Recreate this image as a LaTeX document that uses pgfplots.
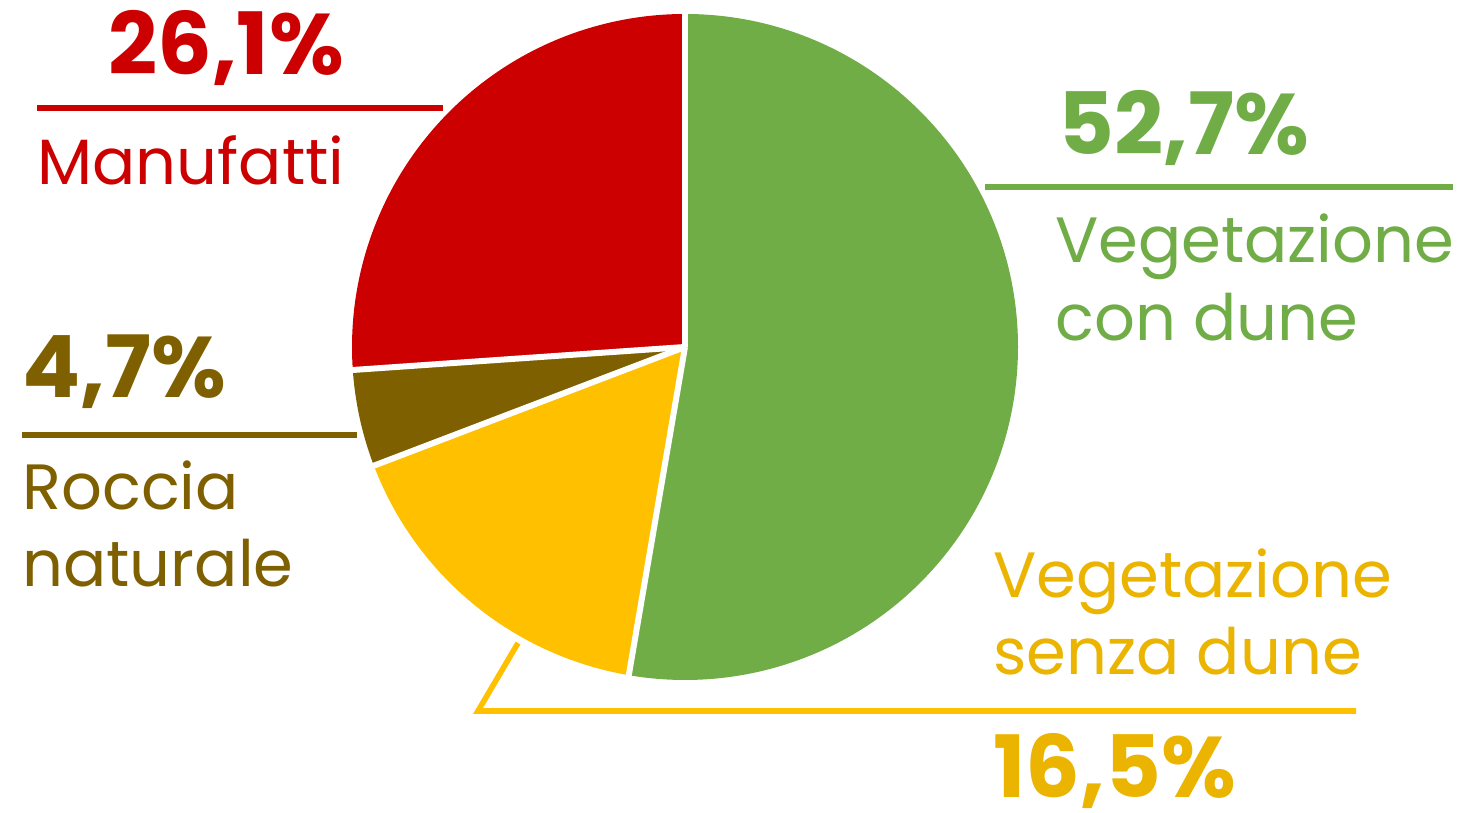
\documentclass[border=0pt]{standalone}
\usepackage{pgfplots}
\pgfplotsset{compat=1.18}
\usepackage{pgfplotstable}
\usepackage{fontspec}
\setmainfont{Poppins}

\definecolor{cgreen}{HTML}{70AD47}
\definecolor{cyellow}{HTML}{FFC000}
\definecolor{cyeltext}{HTML}{EAB400}
\definecolor{cbrown}{HTML}{7F6000}
\definecolor{cred}{HTML}{CC0000}

% shares in percent, clockwise from 12 o'clock
\pgfplotstableread{
share
52.7
16.5
4.7
26.1
}\piedata

\pgfplotstablegetelem{0}{share}\of\piedata\let\sGreen\pgfplotsretval
\pgfplotstablegetelem{1}{share}\of\piedata\let\sYellow\pgfplotsretval
\pgfplotstablegetelem{2}{share}\of\piedata\let\sBrown\pgfplotsretval
\pgfplotstablegetelem{3}{share}\of\piedata\let\sRed\pgfplotsretval
\pgfmathsetmacro\aA{90-3.6*\sGreen}
\pgfmathsetmacro\aB{\aA-3.6*\sYellow}
\pgfmathsetmacro\aC{\aB-3.6*\sBrown}
\pgfmathsetmacro\aD{\aC-3.6*\sRed}
\newcommand\pieR{166.5pt}

\newcommand\lab{\fontsize{32}{39}\selectfont}
\newcommand\bignum{\fontsize{43}{50}\selectfont\bfseries}

\begin{document}
\begin{tikzpicture}
\begin{axis}[
    hide axis,
    scale only axis,
    width=729pt, height=406.5pt,
    xmin=0, xmax=1458, ymin=0, ymax=813,
    clip=false,
]
\fill[cgreen]  (axis cs:685,466) -- ++(90:\pieR)  arc[start angle=90,  end angle=\aA, radius=\pieR] -- cycle;
\fill[cyellow] (axis cs:685,466) -- ++(\aA:\pieR) arc[start angle=\aA, end angle=\aB, radius=\pieR] -- cycle;
\fill[cbrown]  (axis cs:685,466) -- ++(\aB:\pieR) arc[start angle=\aB, end angle=\aC, radius=\pieR] -- cycle;
\fill[cred]    (axis cs:685,466) -- ++(\aC:\pieR) arc[start angle=\aC, end angle=\aD, radius=\pieR] -- cycle;
\draw[white, line width=3pt] (axis cs:685,466) -- ++(90:170pt);
\draw[white, line width=3pt] (axis cs:685,466) -- ++(\aA:170pt);
\draw[white, line width=3pt] (axis cs:685,466) -- ++(\aB:170pt);
\draw[white, line width=3pt] (axis cs:685,466) -- ++(\aC:170pt);

% leader lines
\draw[cred, line width=2.6pt] (axis cs:37,705) -- (axis cs:443,705);
\draw[cgreen, line width=2.6pt] (axis cs:985,626) -- (axis cs:1453,626);
\draw[cbrown, line width=2.6pt] (axis cs:22,378) -- (axis cs:357,378);
\draw[cyellow, line width=2.8pt] (axis cs:518,170) -- (axis cs:478,102) -- (axis cs:1356,102);

% labels
\node[anchor=base west, inner sep=0, text=cred] at (axis cs:108,738) {\bignum 26,1\%};
\node[anchor=base west, inner sep=0, text=cred] at (axis cs:37,628) {\lab Manufatti};
\node[anchor=base west, inner sep=0, text=cgreen] at (axis cs:1058,658) {\bignum 52,7\%};
\node[anchor=base west, inner sep=0, text=cgreen] at (axis cs:1055,550) {\lab Vegetazione};
\node[anchor=base west, inner sep=0, text=cgreen] at (axis cs:1055,472) {\lab con dune};
\node[anchor=base west, inner sep=0, text=cbrown] at (axis cs:22,415) {\bignum 4,7\%};
\node[anchor=base west, inner sep=0, text=cbrown] at (axis cs:22,303) {\lab Roccia};
\node[anchor=base west, inner sep=0, text=cbrown] at (axis cs:22,226) {\lab naturale};
\node[anchor=base west, inner sep=0, text=cyeltext] at (axis cs:993,215) {\lab Vegetazione};
\node[anchor=base west, inner sep=0, text=cyeltext] at (axis cs:993,138) {\lab senza dune};
\node[anchor=base west, inner sep=0, text=cyeltext] at (axis cs:993,15) {\bignum 16,5\%};
\end{axis}
\pgfresetboundingbox
\useasboundingbox (0,0) rectangle (729pt,406.5pt);
\end{tikzpicture}
\end{document}
